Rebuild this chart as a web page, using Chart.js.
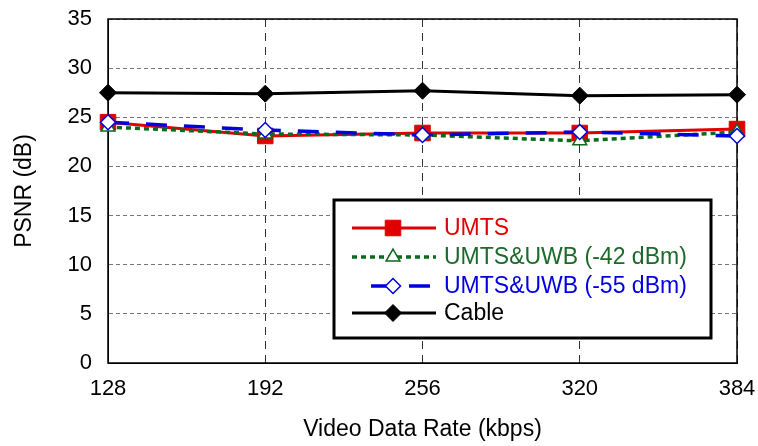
<!DOCTYPE html>
<html><head><meta charset="utf-8">
<script src="https://cdn.jsdelivr.net/npm/chart.js@4"></script>
<style>html,body{margin:0;padding:0;background:#fff}#wrap{width:758px;height:446px}</style>
</head><body><div id="wrap"><canvas id="c" width="758" height="446"></canvas></div>
<script>
const rates = [128, 192, 256, 320, 384];
const umts = [24.5, 23.1, 23.4, 23.4, 23.8];
const uwb42 = [24.0, 23.3, 23.2, 22.6, 23.5];
const uwb55 = [24.5, 23.7, 23.2, 23.5, 23.1];
const cable = [27.5, 27.4, 27.7, 27.2, 27.3];
const yTicks = [0, 5, 10, 15, 20, 25, 30, 35];
const seriesNames = ['UMTS', 'UMTS&UWB (-42 dBm)', 'UMTS&UWB (-55 dBm)', 'Cable'];
const FONT = "'Liberation Sans', Arial, sans-serif";

const series = [
  {label:seriesNames[0], data:umts, color:'#e00000', text:'#e00000', dash:[], width:3, style:'rect', fill:true, r:11, lx:[352,436]},
  {label:seriesNames[1], data:uwb42, color:'#0a6a1e', text:'#1a6a2a', dash:[5,4], width:3.5, style:'triangle', fill:false, r:8, lx:[352,436]},
  {label:seriesNames[2], data:uwb55, color:'#0000e0', text:'#0000e0', dash:[21,17], width:3.5, style:'rectRot', fill:false, r:7.5, lx:[371,436]},
  {label:seriesNames[3], data:cable, color:'#000000', text:'#000000', dash:[], width:3, style:'rectRot', fill:true, r:8.5, lx:[352,436]}
];

const datasets = series.slice().reverse().map(s => ({
  label: s.label,
  data: rates.map((x,i)=>({x, y:s.data[i]})),
  borderColor: s.color,
  borderWidth: s.width,
  borderDash: s.dash,
  pointStyle: s.style,
  pointRadius: s.r,
  pointBackgroundColor: s.fill ? s.color : '#ffffff',
  pointBorderColor: s.color,
  pointBorderWidth: s.fill ? 1 : 1.5,
  tension: 0,
  fill: false,
  clip: false
}));

const frameLegend = {
  id:'frameLegend',
  beforeDatasetsDraw(chart){
    const {ctx, chartArea:a} = chart;
    ctx.save();
    ctx.strokeStyle='#000'; ctx.lineWidth=1.5;
    ctx.strokeRect(a.left, a.top, a.right-a.left, a.bottom-a.top);
    ctx.restore();
  },
  afterDraw(chart){
    const ctx = chart.ctx;
    ctx.save();
    const bx=334, by=200, bw=377, bh=138;
    ctx.fillStyle='#fff'; ctx.fillRect(bx,by,bw,bh);
    ctx.strokeStyle='#000'; ctx.lineWidth=3; ctx.strokeRect(bx,by,bw,bh);
    const rows=[228,257,286,313];
    series.forEach((s,i)=>{
      const y=rows[i];
      ctx.save();
      ctx.strokeStyle=s.color; ctx.lineWidth=s.width; ctx.setLineDash(s.dash);
      ctx.beginPath(); ctx.moveTo(s.lx[0],y); ctx.lineTo(s.lx[1],y); ctx.stroke();
      ctx.restore();
      ctx.save();
      ctx.fillStyle = s.fill ? s.color : '#fff';
      ctx.strokeStyle = s.color;
      ctx.lineWidth = s.fill?1:1.5;
      ctx.setLineDash([]);
      Chart.helpers.drawPoint(ctx, {pointStyle:s.style, radius:s.r, borderWidth:s.fill?1:1.5}, 393, y);
      ctx.restore();
      ctx.fillStyle=s.text;
      ctx.font = "23px " + FONT;
      ctx.textBaseline='middle';
      ctx.fillText(s.label, 444, y+1);
    });
    ctx.restore();
  }
};

new Chart(document.getElementById('c'), {
  type:'line',
  data:{datasets},
  plugins:[frameLegend],
  options:{
    responsive:false, animation:false, devicePixelRatio:1,
    layout:{padding:{left:0, right:21, top:19, bottom:0}},
    plugins:{legend:{display:false}, tooltip:{enabled:false}},
    scales:{
      x:{type:'linear', min:128, max:384,
        afterBuildTicks(ax){ ax.ticks = rates.map(v=>({value:v})); },
        afterFit(ax){ ax.height = 83; ax.paddingLeft = 0; ax.paddingRight = 0; },
        ticks:{color:'#000', font:{family:FONT, size:22}, padding:13, maxRotation:0},
        grid:{color:'#333', lineWidth:1, drawTicks:false},
        border:{display:true, color:'#000', dash:[8,6]},
        title:{display:true, text:'Video Data Rate (kbps)', color:'#000', font:{family:FONT, size:23}, padding:{top:0, bottom:3}}
      },
      y:{min:0, max:35,
        afterBuildTicks(ax){ ax.ticks = yTicks.map(v=>({value:v})); },
        afterFit(ax){ ax.width = 108; ax.paddingTop = 0; ax.paddingBottom = 0; },
        ticks:{color:'#000', font:{family:FONT, size:22}, padding:16},
        grid:{color:'#777', lineWidth:1, drawTicks:false},
        border:{display:true, color:'#000', dash:[4,3]},
        title:{display:true, text:'PSNR (dB)', color:'#000', font:{family:FONT, size:23}, padding:{top:11, bottom:0}}
      }
    }
  }
});
</script></body></html>
